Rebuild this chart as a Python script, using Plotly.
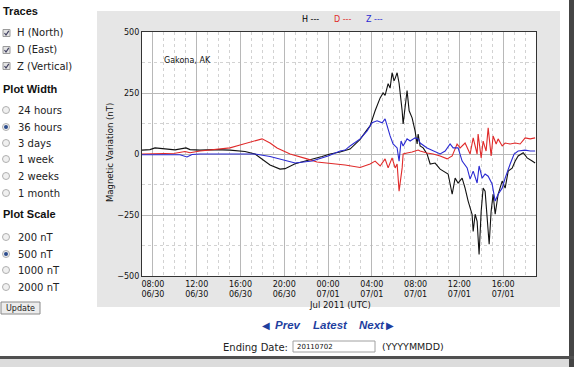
import pandas as pd
import plotly.graph_objects as go

# ---------------- data (hours after 2011-06-30 07:00 UTC, nT) ----------------
START = "2011-06-30 07:00"
h_hours = [0.00, 0.73, 1.19, 2.10, 3.02, 4.02, 4.39, 5.30, 6.67, 8.04, 8.96, 9.41, 10.33, 10.97, 11.70,
           12.61, 13.07, 13.99, 14.90, 15.81, 16.45, 17.18, 18.10, 19.01, 19.93, 20.57, 20.84, 21.30,
           21.76, 22.03, 22.21, 22.49, 22.67, 22.85, 23.03, 23.13, 23.31, 23.49, 23.58, 23.77, 23.86,
           24.04, 24.22, 24.41, 24.68, 24.95, 25.14, 25.23, 25.41, 25.69, 26.05, 26.33, 26.78, 27.24,
           27.51, 27.97, 28.34, 28.61, 28.88, 29.25, 29.52, 29.80, 30.16, 30.26, 30.44, 30.62, 30.80,
           30.99, 31.17, 31.35, 31.54, 31.72, 31.90, 32.08, 32.27, 32.54, 32.91, 33.18, 33.46, 33.82,
           34.10, 34.37, 34.83, 35.19, 35.65, 35.92]
h_values = [16, 18, 25, 20, 17, 25, 18, 16, 18, 16, 14, 10, 0, -20, -45, -62, -60, -40, -30, -20,
            -10, 0, 8, 20, 60, 100, 115, 177, 230, 250, 240, 288, 270, 333, 300, 310, 333, 290, 260, 177,
            123, 205, 260, 177, 148, 95, 41, 82, 33, 25, 0, -41, -37, -62, -70, -82, -165, -99, -119, -99,
            -140, -193, -247, -317, -247, -276, -412, -235, -140, -152, -263, -370, -235, -165, -247, -165,
            -111, -140, -70, -58, -29, -8, 5, -16, -29, -37]

d_hours = [0.00, 1.65, 3.02, 3.93, 4.39, 5.30, 6.67, 8.04, 8.96, 9.87, 10.97, 11.70, 12.34, 13.53,
           14.44, 15.08, 15.99, 17.00, 18.56, 19.93, 20.84, 21.30, 21.76, 22.21, 22.49, 22.85, 23.13,
           23.31, 23.49, 23.77, 23.86, 24.22, 24.68, 25.23, 25.41, 26.05, 26.60, 27.24, 27.88, 28.34,
           28.79, 29.07, 29.52, 29.98, 30.26, 30.62, 30.71, 30.99, 31.17, 31.44, 31.63, 31.90, 32.08,
           32.36, 32.54, 32.91, 33.18, 33.64, 34.10, 34.55, 35.01, 35.47, 35.92]
d_values = [0, 2, 3, 10, 5, 12, 20, 25, 37, 48, 62, 45, 25, 0, -10, -20, -33, -37, -45, -55,
            -41, -29, -49, -20, -57, -16, -57, -41, -152, -57, 0, 4, 8, 16, 12, 4, 0, -8, -20, -8,
            41, 25, 45, 0, 66, 0, 82, -16, 53, 12, 107, -8, 74, 41, 62, 33, 45, 41, 45, 41, 66, 62, 66]

z_hours = [0.00, 1.65, 3.47, 4.11, 4.57, 5.30, 8.04, 10.33, 11.70, 12.61, 13.99, 15.54, 16.27, 17.00,
           18.10, 18.56, 19.01, 19.93, 20.57, 21.02, 21.48, 21.94, 22.21, 22.39, 22.67, 22.94, 23.31,
           23.49, 23.67, 23.86, 24.22, 24.50, 24.95, 25.23, 25.41, 26.05, 26.60, 27.24, 27.70, 28.15,
           28.43, 28.88, 29.25, 29.71, 29.98, 30.26, 30.62, 30.80, 31.08, 31.35, 31.63, 31.99, 32.27,
           32.54, 32.91, 33.18, 33.64, 34.00, 34.37, 35.01, 35.47, 35.92]
z_values = [-3, -3, -3, -12, -2, 0, 0, 0, -10, -20, -37, -29, -20, -8, 12, 16, 33, 62, 95, 128,
            136, 128, 144, 115, 74, 41, 25, -29, 53, 33, 62, 53, 66, 62, 45, 25, 12, 0, 12, 41,
            25, 25, -29, -57, -103, -70, -119, -49, -99, -82, -91, -123, -193, -165, -140, -99, -41, 0,
            12, 16, 12, 12]

y_ticks = [-500, -250, 0, 250, 500]
trace_labels = ["H (North)", "D (East)", "Z (Vertical)"]
width_labels = ["24 hours", "36 hours", "3 days", "1 week", "2 weeks", "1 month"]
scale_labels = ["200 nT", "500 nT", "1000 nT", "2000 nT"]
width_selected = "36 hours"
scale_selected = "500 nT"

# ---------------- layout geometry ----------------
W, H = 574, 367
L, R, T, B = 142, 38, 32, 91
PW, PH = W - L - R, H - T - B


def px(x):
    return (x - L) / PW


def py(y):
    return (H - B - y) / PH


base = pd.Timestamp(START)
to_t = lambda hrs: [base + pd.Timedelta(hours=v) for v in hrs]

fig = go.Figure()
fig.add_trace(go.Scatter(x=to_t(h_hours), y=h_values, mode="lines",
                         line=dict(color="#111111", width=1.1), name="H"))
fig.add_trace(go.Scatter(x=to_t(d_hours), y=d_values, mode="lines",
                         line=dict(color="#e02a2a", width=1.1), name="D"))
fig.add_trace(go.Scatter(x=to_t(z_hours), y=z_values, mode="lines",
                         line=dict(color="#2a2ad2", width=1.1), name="Z"))

shapes = []
ann = []

# gray chart panel + white plot region
shapes.append(dict(type="rect", xref="paper", yref="paper", layer="below",
                   x0=px(97), x1=px(560), y0=py(307), y1=py(11),
                   fillcolor="#e6e6e6", line=dict(width=0)))
shapes.append(dict(type="rect", xref="paper", yref="paper", layer="below",
                   x0=0, x1=1, y0=0, y1=1, fillcolor="white", line=dict(width=0)))
# page borders (right & bottom)
shapes.append(dict(type="rect", xref="paper", yref="paper",
                   x0=px(569), x1=px(574), y0=py(367), y1=py(0),
                   fillcolor="#454545", line=dict(width=0)))
shapes.append(dict(type="rect", xref="paper", yref="paper",
                   x0=px(0), x1=px(574), y0=py(359), y1=py(356),
                   fillcolor="#505050", line=dict(width=0)))
shapes.append(dict(type="rect", xref="paper", yref="paper",
                   x0=px(0), x1=px(569), y0=py(367), y1=py(359),
                   fillcolor="#dcdcdc", line=dict(width=0)))

SIDE_FONT = dict(family="DejaVu Sans", size=10, color="#222222")
HEAD_FONT = dict(family="Liberation Sans", size=11, color="#111111")


def text(x, y, s, font, xanchor="left", **kw):
    ann.append(dict(x=px(x), y=py(y), xref="paper", yref="paper", text=s, showarrow=False,
                    xanchor=xanchor, yanchor="middle", font=font, **kw))


# sidebar
text(1, 11, "<b>Traces</b>", HEAD_FONT)
for i, lab in enumerate(trace_labels):
    yc = [33, 50, 66][i]
    shapes.append(dict(type="rect", xref="paper", yref="paper",
                       x0=px(3), x1=px(10), y0=py(yc + 3.5), y1=py(yc - 3.5),
                       fillcolor="#e4e4e4", line=dict(color="#9a9a9a", width=1)))
    shapes.append(dict(type="path", xref="paper", yref="paper",
                       path=f"M {px(4.5)},{py(yc)} L {px(6)},{py(yc + 2)} L {px(8.8)},{py(yc - 2.2)}",
                       line=dict(color="#404060", width=1.2)))
    text(15, yc, lab, SIDE_FONT)

text(1, 89, "<b>Plot Width</b>", HEAD_FONT)
for i, lab in enumerate(width_labels):
    yc = [110, 127, 143, 159, 176, 193][i]
    shapes.append(dict(type="circle", xref="paper", yref="paper",
                       x0=px(2.5), x1=px(9.5), y0=py(yc + 3.5), y1=py(yc - 3.5),
                       fillcolor="#f0f0f0", line=dict(color="#b0b0b0", width=1)))
    if lab == width_selected:
        shapes.append(dict(type="circle", xref="paper", yref="paper",
                           x0=px(4), x1=px(8), y0=py(yc + 2), y1=py(yc - 2),
                           fillcolor="#2c4c8c", line=dict(width=0)))
    text(16, yc, lab, SIDE_FONT)

text(1, 214, "<b>Plot Scale</b>", HEAD_FONT)
for i, lab in enumerate(scale_labels):
    yc = [237, 254, 270, 287][i]
    shapes.append(dict(type="circle", xref="paper", yref="paper",
                       x0=px(2.5), x1=px(9.5), y0=py(yc + 3.5), y1=py(yc - 3.5),
                       fillcolor="#f0f0f0", line=dict(color="#b0b0b0", width=1)))
    if lab == scale_selected:
        shapes.append(dict(type="circle", xref="paper", yref="paper",
                           x0=px(4), x1=px(8), y0=py(yc + 2), y1=py(yc - 2),
                           fillcolor="#2c4c8c", line=dict(width=0)))
    text(16, yc, lab, SIDE_FONT)

# Update button
shapes.append(dict(type="rect", xref="paper", yref="paper",
                   x0=px(1), x1=px(40), y0=py(314), y1=py(302),
                   fillcolor="#ececec", line=dict(color="#8a8a8a", width=1)))
text(20.5, 308, "Update", dict(family="DejaVu Sans", size=8, color="#222222"), xanchor="center")

# chart texts
CH_FONT = dict(family="DejaVu Sans", size=8, color="#111111")
text(162, 60, "Gakona, AK", CH_FONT)
text(300, 20, "H ---", dict(family="DejaVu Sans", size=8, color="#000000"))
text(332, 20, "D ---", dict(family="DejaVu Sans", size=8, color="#e02a2a"))
text(364, 20, "Z ---", dict(family="DejaVu Sans", size=8, color="#2a2ad2"))
ann.append(dict(x=px(110), y=py(153), xref="paper", yref="paper",
                text="Magnetic Variation (nT)", showarrow=False, textangle=-90,
                xanchor="center", yanchor="middle",
                font=dict(family="DejaVu Sans", size=8.5, color="#111111")))
text(340, 305, "Jul 2011 (UTC)", dict(family="DejaVu Sans", size=8.5, color="#111111"),
     xanchor="center")

# navigation
NAV = dict(family="Liberation Sans", size=11.5, color="#1f3f9f")
text(265.5, 325, "◀", dict(family="DejaVu Sans", size=10, color="#1f3f9f"), xanchor="center")
text(273, 325, "<b><i>Prev</i></b>", NAV)
text(311, 325, "<b><i>Latest</i></b>", NAV)
text(357, 325, "<b><i>Next</i></b>", NAV)
text(390, 325, "▶", dict(family="DejaVu Sans", size=10, color="#1f3f9f"), xanchor="center")

text(221, 347, "Ending Date:", dict(family="DejaVu Sans", size=10, color="#222222"))
shapes.append(dict(type="rect", xref="paper", yref="paper",
                   x0=px(293), x1=px(375), y0=py(352), y1=py(341),
                   fillcolor="white", line=dict(color="#a0a0a0", width=1)))
text(295, 346.5, "20110702", dict(family="DejaVu Sans", size=7, color="#111111"))
text(380, 346.5, "(YYYYMMDD)", dict(family="DejaVu Sans", size=9.5, color="#222222"))

fig.update_layout(
    template="none",
    width=W, height=H,
    margin=dict(l=L, r=R, t=T, b=B, pad=0),
    paper_bgcolor="white", plot_bgcolor="white",
    showlegend=False,
    hovermode=False,
    shapes=shapes, annotations=ann,
    font=dict(family="DejaVu Sans", size=8, color="#111111"),
)
fig.update_xaxes(
    type="date", automargin=False,
    range=[base, base + pd.Timedelta(hours=36)],
    tick0="2011-06-30 08:00", dtick=4 * 3600 * 1000,
    tickformat="%H:%M<br>%m/%d", ticks="",
    showgrid=True, gridcolor="#b8b8b8", gridwidth=1,
    minor=dict(dtick=3600 * 1000, showgrid=True, gridcolor="#d2d2d2", griddash="dot", gridwidth=1),
    showline=True, linecolor="#333333", linewidth=1.2, mirror=True, zeroline=False,
    tickfont=dict(family="DejaVu Sans", size=8, color="#111111"),
)
fig.update_yaxes(
    automargin=False, range=[-500, 500],
    tickmode="array", tickvals=y_ticks, ticks="",
    showgrid=True, gridcolor="#b8b8b8", gridwidth=1,
    minor=dict(tickmode="linear", tick0=0, dtick=125, showgrid=True, gridcolor="#d2d2d2",
               griddash="dot", gridwidth=1),
    showline=True, linecolor="#333333", linewidth=1.2, mirror=True, zeroline=False,
    tickfont=dict(family="DejaVu Sans", size=8, color="#111111"),
)

fig.write_html("out.html", config={"displayModeBar": False},
               post_script="document.body.style.margin='0px';")
